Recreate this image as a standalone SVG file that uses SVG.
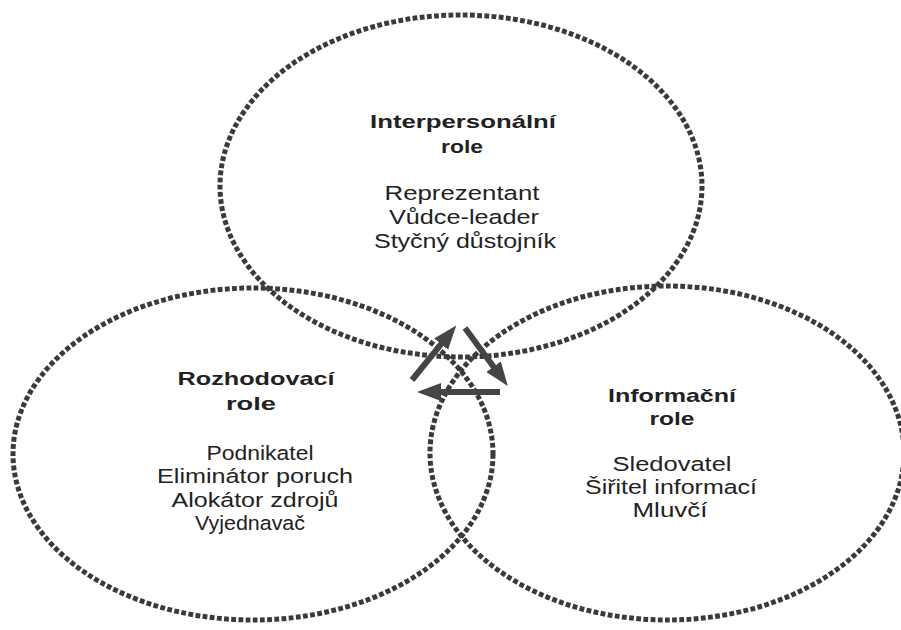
<svg xmlns="http://www.w3.org/2000/svg" width="901" height="630" viewBox="0 0 901 630">
<defs>
<style>
.ring{fill:none;stroke:#3a3a3a;stroke-width:5;stroke-dasharray:4.8 2.4;}
.arr{stroke:#454545;stroke-width:6;fill:none;marker-end:url(#head);}
.t{font-family:"Liberation Sans",Arial,sans-serif;fill:#222;text-anchor:middle;}
.b{font-weight:bold;font-size:18.5px;}
.r{font-size:20.5px;}
</style>
<marker id="head" markerUnits="userSpaceOnUse" markerWidth="26" markerHeight="20" refX="9" refY="9.5" orient="auto">
<path d="M0,0.5 L24,9.5 L0,18.5 Z" fill="#454545"/>
</marker>
</defs>
<rect width="901" height="630" fill="#ffffff"/>
<g id="node-interpersonal">
<ellipse class="ring" cx="461" cy="186" rx="241" ry="171"/>
<text class="t b" x="463" y="128" textLength="186" lengthAdjust="spacingAndGlyphs">Interpersonální</text>
<text class="t b" x="462" y="153" textLength="42" lengthAdjust="spacingAndGlyphs">role</text>
<text class="t r" x="462" y="200" textLength="155" lengthAdjust="spacingAndGlyphs">Reprezentant</text>
<text class="t r" x="464" y="224" textLength="150" lengthAdjust="spacingAndGlyphs">Vůdce-leader</text>
<text class="t r" x="465" y="248" textLength="182" lengthAdjust="spacingAndGlyphs">Styčný důstojník</text>
</g>
<g id="node-rozhodovaci">
<ellipse class="ring" cx="253" cy="454" rx="240" ry="166"/>
<text class="t b" x="256" y="385" textLength="157" lengthAdjust="spacingAndGlyphs">Rozhodovací</text>
<text class="t b" x="251" y="410" textLength="50" lengthAdjust="spacingAndGlyphs">role</text>
<text class="t r" x="260" y="460" textLength="107" lengthAdjust="spacingAndGlyphs">Podnikatel</text>
<text class="t r" x="255" y="483" textLength="196" lengthAdjust="spacingAndGlyphs">Eliminátor poruch</text>
<text class="t r" x="255" y="507" textLength="167" lengthAdjust="spacingAndGlyphs">Alokátor zdrojů</text>
<text class="t r" x="250" y="530" textLength="110" lengthAdjust="spacingAndGlyphs">Vyjednavač</text>
</g>
<g id="node-informacni">
<ellipse class="ring" cx="667" cy="453" rx="237" ry="167"/>
<text class="t b" x="672" y="402" textLength="128" lengthAdjust="spacingAndGlyphs">Informační</text>
<text class="t b" x="672" y="425" textLength="45" lengthAdjust="spacingAndGlyphs">role</text>
<text class="t r" x="672" y="471" textLength="119" lengthAdjust="spacingAndGlyphs">Sledovatel</text>
<text class="t r" x="671" y="494" textLength="172" lengthAdjust="spacingAndGlyphs">Šiřitel informací</text>
<text class="t r" x="670" y="517" textLength="75" lengthAdjust="spacingAndGlyphs">Mluvčí</text>
</g>
<g id="connectors">
<line class="arr" x1="412" y1="380" x2="446.8" y2="337.1"/>
<line class="arr" x1="465" y1="328" x2="498.9" y2="374.0"/>
<line class="arr" x1="500" y1="392" x2="432" y2="392"/>
</g>
</svg>
